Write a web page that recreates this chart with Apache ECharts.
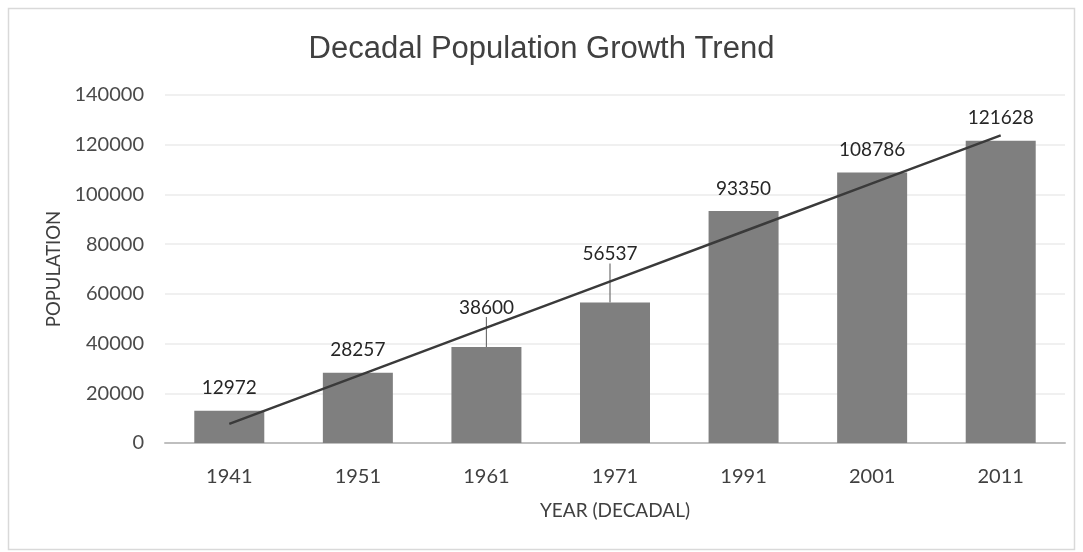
<!DOCTYPE html>
<html>
<head>
<meta charset="utf-8">
<script src="https://cdn.jsdelivr.net/npm/echarts@6/dist/echarts.min.js"></script>
<style>
  html, body { margin: 0; padding: 0; background: #ffffff; }
  #chart { width: 1083px; height: 552px; }
</style>
</head>
<body>
<div id="chart"></div>
<script>
// Census years and population counts
var years = ['1941', '1951', '1961', '1971', '1991', '2001', '2011'];
var population = [12972, 28257, 38600, 56537, 93350, 108786, 121628];
var yTicks = { min: 0, max: 140000, interval: 20000 };

// Least-squares linear trend over category positions 1..n
function linearTrend(values) {
  var n = values.length, sx = 0, sy = 0, sxy = 0, sxx = 0;
  for (var i = 0; i < n; i++) {
    var x = i + 1;
    sx += x; sy += values[i]; sxy += x * values[i]; sxx += x * x;
  }
  var slope = (n * sxy - sx * sy) / (n * sxx - sx * sx);
  var intercept = (sy - slope * sx) / n;
  return values.map(function (_, i) { return intercept + slope * (i + 1); });
}
var trend = linearTrend(population);

// Labels lifted off their bars, drawn with a leader line
var liftedLabels = { 2: { dx: 0, dy: -17 }, 3: { dx: -5, dy: -26 } };

var uiFont = 'Lato';
var chart = echarts.init(document.getElementById('chart'), null, { renderer: 'canvas' });

chart.setOption({
  backgroundColor: '#ffffff',
  animation: false,
  graphic: [{
    type: 'rect',
    shape: { x: 8.5, y: 8.5, width: 1066, height: 541 },
    style: { fill: 'none', stroke: '#d9d9d9', lineWidth: 1.5 },
    silent: true
  }],
  title: {
    text: 'Decadal Population Growth Trend',
    left: 'center',
    top: 29,
    textStyle: {
      fontFamily: 'Liberation Sans',
      fontSize: 31,
      fontWeight: 'normal',
      color: '#404040'
    }
  },
  grid: { left: 165, right: 18, top: 95, bottom: 109 },
  xAxis: {
    type: 'category',
    data: years,
    name: 'YEAR (DECADAL)',
    nameLocation: 'middle',
    nameGap: 58,
    nameTextStyle: { fontFamily: uiFont, fontSize: 19, color: '#404040' },
    axisLine: { lineStyle: { color: '#bfbfbf', width: 2 } },
    axisTick: { show: false },
    axisLabel: { fontFamily: uiFont, fontSize: 20, color: '#404040', margin: 24 }
  },
  yAxis: {
    type: 'value',
    min: yTicks.min,
    max: yTicks.max,
    interval: yTicks.interval,
    name: 'POPULATION',
    nameLocation: 'middle',
    nameGap: 100,
    nameRotate: 90,
    nameTextStyle: { fontFamily: uiFont, fontSize: 18.5, color: '#404040' },
    axisLine: { show: false },
    axisTick: { show: false },
    axisLabel: {
      fontFamily: uiFont,
      fontSize: 20,
      color: '#4a4a4a',
      margin: 21,
      formatter: function (v) { return String(v); }
    },
    splitLine: { lineStyle: { color: '#ebebeb', width: 1.5 } }
  },
  series: [
    {
      name: 'Population',
      type: 'bar',
      data: population.map(function (v, i) {
        return liftedLabels[i] ? { value: v, labelLine: { show: true } } : v;
      }),
      barWidth: 70,
      itemStyle: { color: '#7f7f7f' },
      label: {
        show: true,
        position: 'top',
        distance: 13,
        fontFamily: uiFont,
        fontSize: 19,
        color: '#262626'
      },
      labelLine: { show: false, lineStyle: { color: '#6f6f6f', width: 1.2 } },
      labelLayout: function (params) {
        var m = liftedLabels[params.dataIndex];
        return m ? { dx: m.dx, dy: m.dy } : {};
      },
      z: 2
    },
    {
      name: 'Linear (Population)',
      type: 'line',
      data: trend,
      symbol: 'none',
      lineStyle: { color: '#3a3a3a', width: 2.5 },
      silent: true,
      z: 3
    }
  ]
});
</script>
</body>
</html>
